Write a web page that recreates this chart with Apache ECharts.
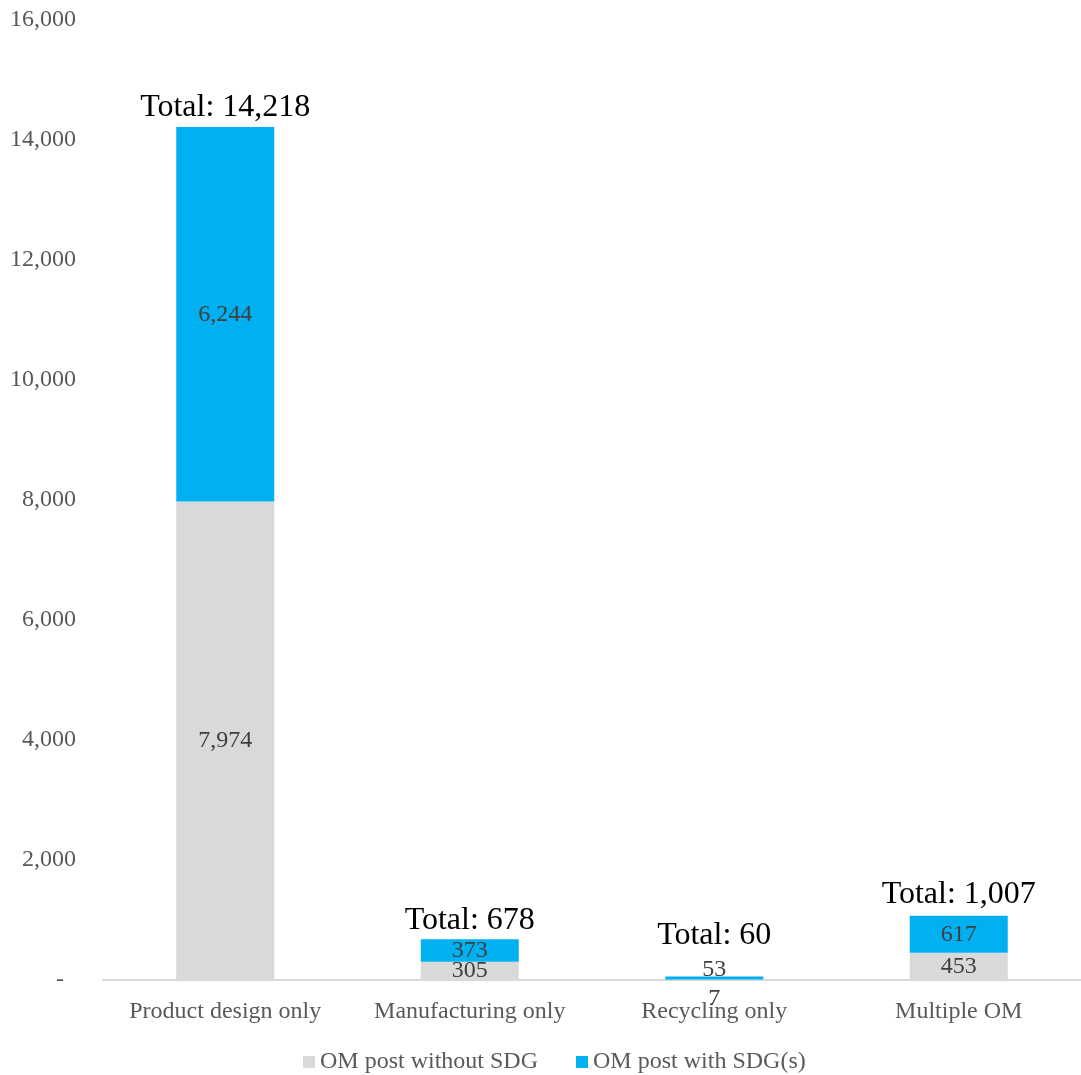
<!DOCTYPE html>
<html>
<head>
<meta charset="utf-8">
<title>OM posts by stage</title>
<script src="https://cdn.jsdelivr.net/npm/echarts@6/dist/echarts.min.js"></script>
<style>
  html, body { margin: 0; padding: 0; background: #fff; }
  #chart { width: 1081px; height: 1075px; }
</style>
</head>
<body>
<div id="chart"></div>
<script>
// Categories and values
const categories = ['Product design only', 'Manufacturing only', 'Recycling only', 'Multiple OM'];
const withoutSdg = [7974, 305, 7, 453];
const withSdg = [6244, 373, 53, 617];
const totals = [14218, 678, 60, 1007];
const seriesNames = ['OM post without SDG', 'OM post with SDG(s)'];
const yTicks = { min: 0, max: 16000, interval: 2000 };

const serif = '"Liberation Serif", "Times New Roman", serif';
const fmt = v => v === 0 ? '-  ' : v.toLocaleString('en-US');

// Small segments on the recycling bar get their labels nudged apart
const labelNudge = { 2: { without: [0, 19], with: [0, -8], total: [0, -22] }, 3: { total: [0, -2] } };

function items(values, key) {
  return values.map((v, i) => {
    const n = labelNudge[i] && labelNudge[i][key];
    return n ? { value: v, label: { offset: n } } : v;
  });
}

const chart = echarts.init(document.getElementById('chart'));
chart.setOption({
  animation: false,
  textStyle: { fontFamily: serif },
  grid: { left: 103, top: 20, width: 981, height: 960, containLabel: false },
  legend: {
    data: seriesNames,
    top: 1045,
    left: 298,
    itemWidth: 12,
    itemHeight: 12,
    itemGap: 38,
    icon: 'rect',
    textStyle: { fontFamily: serif, fontSize: 24, color: '#595959', padding: [0, 0, 0, 0] }
  },
  xAxis: {
    type: 'category',
    data: categories,
    axisLine: { lineStyle: { color: '#D9D9D9', width: 2 } },
    axisTick: { show: false },
    axisLabel: { fontFamily: serif, fontSize: 24, color: '#595959', margin: 20, interval: 0 }
  },
  yAxis: {
    type: 'value',
    min: yTicks.min,
    max: yTicks.max,
    interval: yTicks.interval,
    splitLine: { show: false },
    axisLine: { show: false },
    axisTick: { show: false },
    axisLabel: { fontFamily: serif, fontSize: 24, color: '#595959', margin: 27, formatter: fmt, lineHeight: 28, padding: [4, 0, 0, 0] }
  },
  series: [
    {
      name: seriesNames[0],
      type: 'bar',
      stack: 'om',
      barWidth: 98,
      itemStyle: { color: '#D9D9D9' },
      label: { show: true, position: 'inside', fontFamily: serif, fontSize: 24, color: '#404040', formatter: p => fmt(p.value) },
      data: items(withoutSdg, 'without')
    },
    {
      name: seriesNames[1],
      type: 'bar',
      stack: 'om',
      barWidth: 98,
      itemStyle: { color: '#00B0F0' },
      label: { show: true, position: 'inside', fontFamily: serif, fontSize: 24, color: '#404040', formatter: p => fmt(p.value) },
      data: items(withSdg, 'with')
    },
    {
      // zero-height cap carrying the total caption above each stack
      name: 'Total',
      type: 'bar',
      stack: 'om',
      barWidth: 98,
      itemStyle: { color: 'transparent' },
      label: {
        show: true,
        position: 'top',
        distance: 3,
        fontFamily: serif,
        fontSize: 32,
        color: '#000000',
        formatter: p => 'Total: ' + totals[p.dataIndex].toLocaleString('en-US')
      },
      data: items([0, 0, 0, 0], 'total')
    }
  ]
});
</script>
</body>
</html>
